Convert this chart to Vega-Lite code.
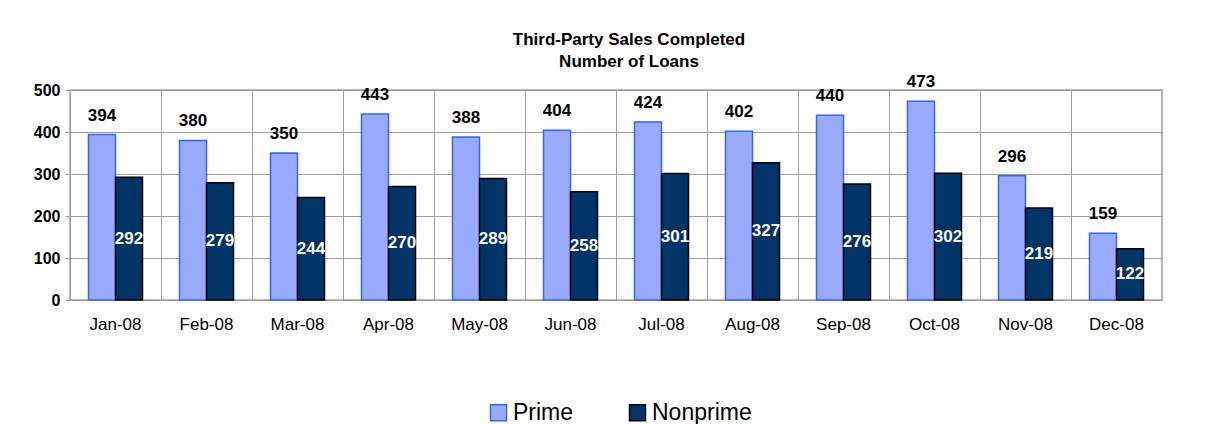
{
  "$schema": "https://vega.github.io/schema/vega-lite/v6.json",
  "width": 1092,
  "height": 210,
  "autosize": "none",
  "padding": {"left": 70, "top": 90, "right": 69, "bottom": 124},
  "background": "white",
  "title": {
    "text": ["Third-Party Sales Completed", "Number of Loans"],
    "font": "Liberation Sans",
    "fontSize": 17,
    "fontWeight": "bold",
    "color": "black",
    "lineHeight": 22,
    "anchor": "middle",
    "dx": 13,
    "offset": 2
  },
  "data": {
    "values": [
      {"month": "Jan-08", "series": "Prime", "value": 394},
      {"month": "Jan-08", "series": "Nonprime", "value": 292},
      {"month": "Feb-08", "series": "Prime", "value": 380},
      {"month": "Feb-08", "series": "Nonprime", "value": 279},
      {"month": "Mar-08", "series": "Prime", "value": 350},
      {"month": "Mar-08", "series": "Nonprime", "value": 244},
      {"month": "Apr-08", "series": "Prime", "value": 443},
      {"month": "Apr-08", "series": "Nonprime", "value": 270},
      {"month": "May-08", "series": "Prime", "value": 388},
      {"month": "May-08", "series": "Nonprime", "value": 289},
      {"month": "Jun-08", "series": "Prime", "value": 404},
      {"month": "Jun-08", "series": "Nonprime", "value": 258},
      {"month": "Jul-08", "series": "Prime", "value": 424},
      {"month": "Jul-08", "series": "Nonprime", "value": 301},
      {"month": "Aug-08", "series": "Prime", "value": 402},
      {"month": "Aug-08", "series": "Nonprime", "value": 327},
      {"month": "Sep-08", "series": "Prime", "value": 440},
      {"month": "Sep-08", "series": "Nonprime", "value": 276},
      {"month": "Oct-08", "series": "Prime", "value": 473},
      {"month": "Oct-08", "series": "Nonprime", "value": 302},
      {"month": "Nov-08", "series": "Prime", "value": 296},
      {"month": "Nov-08", "series": "Nonprime", "value": 219},
      {"month": "Dec-08", "series": "Prime", "value": 159},
      {"month": "Dec-08", "series": "Nonprime", "value": 122}
    ]
  },
  "encoding": {
    "x": {
      "field": "month",
      "type": "nominal",
      "sort": null,
      "scale": {"paddingInner": 0, "paddingOuter": 0},
      "axis": {
        "title": null,
        "labelAngle": 0,
        "labelFont": "Liberation Sans",
        "labelFontSize": 17,
        "labelColor": "black",
        "labelPadding": 16,
        "ticks": false,
        "domainColor": "#a0a0a0",
        "grid": true,
        "gridColor": "#a0a0a0",
        "bandPosition": 0
      }
    },
    "xOffset": {
      "field": "series",
      "type": "nominal",
      "sort": ["Prime", "Nonprime"],
      "scale": {"paddingInner": 0, "paddingOuter": 0.685}
    }
  },
  "layer": [
    {
      "mark": {"type": "bar", "strokeWidth": 1.5},
      "encoding": {
        "y": {
          "field": "value",
          "type": "quantitative",
          "scale": {"domain": [0, 500], "nice": false},
          "axis": {
            "title": null,
            "values": [0, 100, 200, 300, 400, 500],
            "labelFont": "Liberation Sans",
            "labelFontSize": 16,
            "labelFontWeight": "bold",
            "labelColor": "black",
            "labelPadding": 5,
            "tickSize": 5,
            "tickColor": "#a0a0a0",
            "domain": false,
            "gridColor": "#a0a0a0"
          }
        },
        "color": {
          "field": "series",
          "type": "nominal",
          "sort": ["Prime", "Nonprime"],
          "scale": {"domain": ["Prime", "Nonprime"], "range": ["#9aabff", "#003366"]},
          "legend": {
            "title": null,
            "orient": "none",
            "direction": "horizontal",
            "legendX": 417,
            "legendY": 311,
            "symbolType": "square",
            "symbolSize": 256,
            "symbolStrokeWidth": 1.5,
            "symbolOpacity": 1,
            "labelFont": "Liberation Sans",
            "labelFontSize": 23,
            "labelColor": "black",
            "labelOffset": 3,
            "labelLimit": 0,
            "columnPadding": 52
          }
        },
        "stroke": {
          "field": "series",
          "type": "nominal",
          "sort": ["Prime", "Nonprime"],
          "scale": {"domain": ["Prime", "Nonprime"], "range": ["#3366ff", "#000000"]},
          "legend": null
        }
      }
    },
    {
      "transform": [{"filter": "datum.series === 'Prime'"}],
      "mark": {
        "type": "text",
        "font": "Liberation Sans",
        "fontSize": 17,
        "fontWeight": "bold",
        "color": "black",
        "baseline": "alphabetic",
        "dy": -14
      },
      "encoding": {
        "y": {"field": "value", "type": "quantitative"},
        "text": {"field": "value", "type": "quantitative"}
      }
    },
    {
      "transform": [
        {"filter": "datum.series === 'Nonprime'"},
        {"calculate": "datum.value / 2", "as": "mid"}
      ],
      "mark": {
        "type": "text",
        "font": "Liberation Sans",
        "fontSize": 17,
        "fontWeight": "bold",
        "color": "white",
        "baseline": "middle"
      },
      "encoding": {
        "y": {"field": "mid", "type": "quantitative"},
        "text": {"field": "value", "type": "quantitative"}
      }
    }
  ],
  "config": {
    "view": {"stroke": "#a0a0a0", "strokeWidth": 1.5}
  }
}
